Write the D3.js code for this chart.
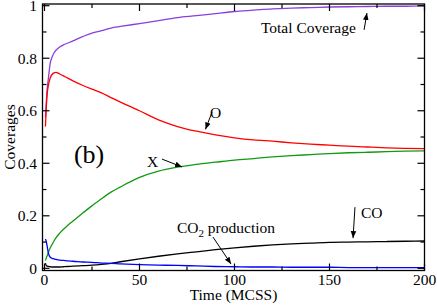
<!DOCTYPE html>
<html>
<head>
<meta charset="utf-8">
<script src="https://cdn.jsdelivr.net/npm/d3@7"></script>
<style>
  body { margin: 0; background: #fff; }
  svg { display: block; }
</style>
</head>
<body>
<svg id="chart" width="437" height="305"></svg>
<script>
// time points (MCSS)
const times = [0.5, 1, 1.5, 2, 3, 4, 5, 6, 8, 10, 12, 15, 20, 25, 30, 35, 40, 50, 60, 70, 80, 90,
               100, 110, 120, 130, 140, 150, 160, 170, 180, 190, 200];

const totalCov = [0.575, 0.64, 0.69, 0.72, 0.78, 0.805, 0.82, 0.83, 0.843, 0.851, 0.857, 0.866, 0.882, 0.896, 0.905, 0.915, 0.921, 0.932, 0.943, 0.955, 0.962, 0.97,
                  0.978, 0.983, 0.988, 0.991, 0.993, 0.995, 0.996, 0.997, 0.998, 0.998, 0.999];
const oCov = [0.54, 0.62, 0.67, 0.695, 0.725, 0.738, 0.744, 0.746, 0.74, 0.733, 0.725, 0.714, 0.697, 0.682, 0.668, 0.65, 0.633, 0.6, 0.565, 0.54, 0.522, 0.508,
              0.497, 0.489, 0.484, 0.478, 0.473, 0.469, 0.465, 0.462, 0.459, 0.457, 0.456];
const xCov = [0.03, 0.04, 0.05, 0.06, 0.077, 0.091, 0.104, 0.116, 0.134, 0.149, 0.162, 0.18, 0.21, 0.238, 0.265, 0.29, 0.31, 0.346, 0.37, 0.385, 0.396, 0.404,
              0.412, 0.418, 0.424, 0.429, 0.433, 0.437, 0.44, 0.442, 0.444, 0.446, 0.447];
const co2Prod = [0.112, 0.1, 0.08, 0.06, 0.042, 0.038, 0.036, 0.034, 0.031, 0.03, 0.028, 0.027, 0.024, 0.023, 0.02, 0.019, 0.017, 0.014, 0.012, 0.011, 0.009, 0.007,
                 0.006, 0.005, 0.005, 0.004, 0.004, 0.004, 0.003, 0.003, 0.003, 0.003, 0.003];
const coCov = [0.02, 0.01, 0.008, 0.007, 0.006, 0.005, 0.005, 0.005, 0.005, 0.006, 0.007, 0.008, 0.01, 0.012, 0.015, 0.019, 0.025, 0.036, 0.046, 0.055, 0.063, 0.071,
               0.078, 0.084, 0.089, 0.093, 0.096, 0.099, 0.1, 0.101, 0.102, 0.103, 0.104];

const xTicks = [0, 50, 100, 150, 200];
const yTicks = [0, 0.2, 0.4, 0.6, 0.8, 1];

const FONT = "'Liberation Serif', 'Times New Roman', serif";
const svg = d3.select("#chart");
const LEFT = 42.5, RIGHT = 424.5, TOP = 4, BOTTOM = 270.5;

let xscale = d3.scaleLinear().domain([-1.05, 200]).range([LEFT, RIGHT]);
let yscale = d3.scaleLinear().domain([-0.0083, 1.0065]).range([BOTTOM, TOP]);

const seriesData = [
    {vals: totalCov, color: "#8a3fdc"},
    {vals: oCov, color: "#ff0000"},
    {vals: xCov, color: "#119a11"},
    {vals: coCov, color: "#000000"},
    {vals: co2Prod, color: "#0000ff"},
];

// arrowhead
svg.append("defs").append("marker")
    .attr("id", "arrow")
    .attr("viewBox", "0 0 10 10")
    .attr("refX", 10).attr("refY", 5)
    .attr("markerWidth", 7).attr("markerHeight", 7)
    .attr("markerUnits", "userSpaceOnUse")
    .attr("orient", "auto")
    .append("path").attr("d", "M0,1 L10,5 L0,9 Z").attr("fill", "black");

const line = d3.line()
    .x((d, i) => xscale(times[i]))
    .y(d => yscale(d))
    .curve(d3.curveMonotoneX);

svg.selectAll(".series").data(seriesData).join("path")
    .attr("class", "series")
    .attr("fill", "none")
    .attr("stroke", d => d.color)
    .attr("stroke-width", 1.3)
    .attr("d", d => line(d.vals));

// frame
svg.append("rect")
    .attr("x", LEFT).attr("y", TOP)
    .attr("width", RIGHT - LEFT).attr("height", BOTTOM - TOP)
    .attr("fill", "none").attr("stroke", "black").attr("stroke-width", 1.3);

// ticks, inward on all four sides
const xAll = d3.range(0, 201, 25);
const yAll = d3.range(0, 11).map(i => i / 10);
function isMajorX(t) { return t % 50 == 0; }
function isMajorY(v) { return Math.round(v * 10) % 2 == 0; }

svg.selectAll(".xtick").data(xAll.flatMap(t => [{t, side: 0}, {t, side: 1}])).join("line")
    .attr("x1", d => xscale(d.t)).attr("x2", d => xscale(d.t))
    .attr("y1", d => d.side ? TOP : BOTTOM)
    .attr("y2", d => {
        const len = isMajorX(d.t) ? 7 : 4;
        return d.side ? TOP + len : BOTTOM - len;
    })
    .attr("stroke", "black").attr("stroke-width", 1.2);

svg.selectAll(".ytick").data(yAll.flatMap(v => [{v, side: 0}, {v, side: 1}])).join("line")
    .attr("y1", d => yscale(d.v)).attr("y2", d => yscale(d.v))
    .attr("x1", d => d.side ? RIGHT : LEFT)
    .attr("x2", d => {
        const len = isMajorY(d.v) ? 7 : 4;
        return d.side ? RIGHT - len : LEFT + len;
    })
    .attr("stroke", "black").attr("stroke-width", 1.2);

// tick labels
svg.selectAll(".xlabel").data(xTicks).join("text")
    .attr("x", d => xscale(d)).attr("y", 284.5)
    .attr("text-anchor", "middle").attr("font-size", 15.5)
    .attr("font-family", FONT)
    .text(d => d);

svg.selectAll(".ylabel").data(yTicks).join("text")
    .attr("x", 37).attr("y", d => yscale(d) + 5.3)
    .attr("text-anchor", "end").attr("font-size", 15.5)
    .attr("font-family", FONT)
    .text(d => d);

svg.append("text")
    .attr("x", (LEFT + RIGHT) / 2).attr("y", 300)
    .attr("text-anchor", "middle").attr("font-size", 15.5)
    .attr("font-family", FONT)
    .text("Time (MCSS)");

svg.append("text")
    .attr("transform", "translate(15," + yscale(0.5) + ") rotate(-90)")
    .attr("text-anchor", "middle").attr("font-size", 15.5)
    .attr("font-family", FONT)
    .text("Coverages");

// annotations (data coords)
const labels = [
    {t: 113.9, v: 0.896, text: "Total Coverage", size: 15.5},
    {t: 87.1, v: 0.572, text: "O", size: 15.5},
    {t: 15.5, v: 0.401, text: "(b)", size: 26},
    {t: 53.9, v: 0.386, text: "X", size: 15.5},
    {t: 166.6, v: 0.192, text: "CO", size: 15.5},
];
svg.selectAll(".annot").data(labels).join("text")
    .attr("x", d => xscale(d.t)).attr("y", d => yscale(d.v))
    .attr("font-size", d => d.size)
    .attr("font-family", FONT)
    .text(d => d.text);

const co2 = svg.append("text")
    .attr("x", xscale(69.7)).attr("y", yscale(0.134))
    .attr("font-size", 15.5)
    .attr("font-family", FONT);
co2.append("tspan").text("CO");
co2.append("tspan").attr("font-size", 11).attr("dy", 4).text("2");
co2.append("tspan").attr("dy", -4).text(" production");

const arrows = [
    {t1: 168.2, v1: 0.908, t2: 169.7, v2: 0.972},
    {t1: 88.2, v1: 0.595, t2: 84.7, v2: 0.529},
    {t1: 61.8, v1: 0.416, t2: 72.4, v2: 0.386},
    {t1: 88.7, v1: 0.119, t2: 98.2, v2: 0.016},
    {t1: 163.4, v1: 0.233, t2: 162.4, v2: 0.115},
];
svg.selectAll(".arrow").data(arrows).join("line")
    .attr("x1", d => xscale(d.t1)).attr("y1", d => yscale(d.v1))
    .attr("x2", d => xscale(d.t2)).attr("y2", d => yscale(d.v2))
    .attr("stroke", "black").attr("stroke-width", 1)
    .attr("marker-end", "url(#arrow)");
</script>
</body>
</html>
